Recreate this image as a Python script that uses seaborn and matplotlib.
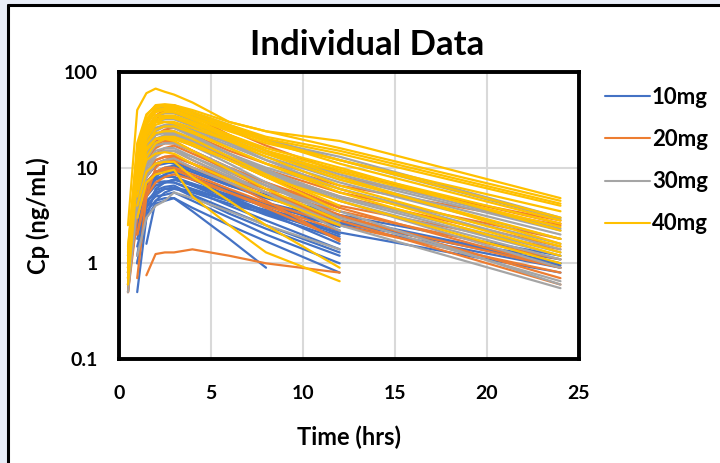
import numpy as np
import pandas as pd
import seaborn as sns
import matplotlib.pyplot as plt
from matplotlib.lines import Line2D
from matplotlib.patches import Rectangle

# sampling times (hrs); None = not sampled / below LOQ
times = [0.5, 1, 1.5, 2, 2.5, 3, 4, 6, 8, 12, 24]

dose_10mg = [
    [0.8, 4.0, 7.0, 9.0, 10.0, 10.5, 9.0, 6.5, 5.0, 3.0, 1.0],
    [None, 1.2, 5.0, 7.5, 8.5, 9.0, 7.5, 5.5, 4.3, 2.8, 0.95],
    [None, 0.5, 3.0, 6.0, 7.0, 7.5, 6.5, 5.0, 4.0, 2.6, 1.1],
    [1.0, 5.0, 8.0, 10.5, 11.0, 11.5, 9.5, 6.8, 5.2, 3.2, 1.2],
    [None, None, 1.6, 4.5, 5.5, 6.0, 5.8, 4.5, 3.6, 2.5, 0.9],
    [0.7, 3.5, 6.0, 7.5, 8.0, 8.0, 6.5, 4.5, 3.2, 1.8, None],
    [None, 2.0, 4.5, 5.5, 6.0, 6.2, 5.0, 3.3, 2.3, 1.2, None],
    [None, 1.5, 3.5, 4.5, 4.8, 4.8, 3.8, 2.5, 1.7, 0.8, None],
    [None, 1.0, 3.0, 4.2, 4.5, 4.8, 3.5, 1.8, 0.9, None, None],
    [0.9, 4.5, 7.0, 8.5, 9.0, 9.0, 7.5, 5.0, 3.5, 1.9, None],
    [None, 2.5, 5.0, 6.5, 7.0, 7.0, 5.8, 4.0, 2.8, 1.4, None],
    [1.2, 5.5, 9.0, 11.0, 11.5, 11.0, 9.0, 6.5, 4.8, 3.0, None],
    [None, 3.0, 6.0, 7.0, 7.2, 7.0, 6.0, 4.5, 3.5, 2.2, None],
    [None, 2.0, 4.0, 5.0, 5.2, 5.5, 4.5, 3.0, 2.0, 1.0, None],
    [0.6, 3.0, 5.5, 6.5, 7.0, 7.5, 6.8, 5.2, 4.0, 2.7, 1.0],
    [None, 2.2, 5.5, 8.0, 9.5, 10.0, 8.0, 5.5, 3.8, 2.0, None],
    [None, 1.8, 4.2, 5.8, 6.3, 6.5, 5.2, 3.6, 2.5, 1.3, None],
    [0.8, 4.0, 6.5, 7.8, 8.2, 8.0, 6.8, 4.8, 3.4, 1.6, None],
    [None, 1.0, 3.8, 5.2, 6.0, 6.0, 5.5, 4.2, 3.3, 2.1, 0.8],
    [None, 3.5, 7.0, 9.0, 9.5, 9.5, 8.0, 5.8, 4.2, 2.4, None],
]

dose_20mg = [
    [None, None, 0.75, 1.25, 1.3, 1.3, 1.4, 1.2, 1.0, 0.8, None],
    [0.5, 6, 15, 22, 25, 26, 22, 15, 11, 6.5, 2.5],
    [1.0, 10, 25, 35, 40, 42, 35, 22, 15, 8, 2.8],
    [None, 0.7, 5, 10, 12, 13, 11, 8, 6, 4, 1.4],
    [0.6, 4, 9, 12, 13, 13, 11, 7.5, 5.5, 3.5, 1.1],
    [None, 3, 8, 11, 12, 12, 10, 7, 5, 3.0, 0.9],
    [0.8, 8, 20, 30, 45, 45, 38, 25, 17, 9, 2.6],
    [None, 2, 6, 9, 10, 10, 8.5, 6, 4.3, 2.5, 0.8],
    [0.5, 5, 12, 16, 18, 18, 15, 10, 7, 3.8, 0.9],
    [None, 4, 10, 14, 16, 17, 14, 9.5, 6.5, 3.2, 0.7],
    [0.7, 6, 13, 17, 18, 18, 15, 10, 7, 3.5, None],
    [None, 3, 7, 9, 9.5, 9.5, 8, 5.5, 3.8, 1.8, None],
    [0.9, 7, 16, 22, 24, 24, 19, 12, 8, 3.8, None],
    [None, 2, 5, 7, 8, 8.5, 7.5, 5.5, 4.0, 2.2, None],
    [0.6, 5, 11, 14, 15, 15, 12, 8, 5.5, 2.8, None],
    [None, 4, 9, 12, 13, 13.5, 11, 7, 4.5, 1.7, None],
    [0.8, 7, 14, 19, 21, 22, 19, 13, 9.5, 5.5, 1.8],
    [None, 5, 12, 17, 20, 21, 18, 12.5, 9, 5, 1.5],
    [0.5, 3, 8, 11, 12, 12, 10, 7, 5, 2.8, 0.6],
    [None, 6, 14, 18, 19, 19, 15, 9, 6, 2.5, None],
]

dose_30mg = [
    [None, 1.2, 3, 4, 4.5, 5.5, 4.8, 3.5, 2.5, 1.4, None],
    [0.8, 10, 28, 40, 45, 44, 38, 28, 20, 12, 2.9],
    [1.0, 8, 20, 30, 33, 33, 28, 20, 14, 8, 2.2],
    [None, 5, 14, 20, 22, 22, 19, 13, 9, 5, 1.3],
    [0.7, 6, 16, 24, 27, 28, 24, 17, 12, 7, 1.8],
    [None, 4, 12, 18, 20, 20, 17, 12, 8.5, 4.5, 0.9],
    [1.2, 12, 30, 42, 44, 42, 35, 26, 19, 13, 3.0],
    [None, 3, 9, 13, 15, 15, 13, 9, 6.5, 3.5, 0.6],
    [0.6, 7, 18, 25, 27, 27, 22, 14, 9.5, 4.5, None],
    [None, 6, 15, 20, 21, 21, 17, 11, 7, 3.0, None],
    [0.9, 9, 22, 30, 32, 32, 27, 18, 12, 6, 1.4],
    [None, 4, 11, 15, 16, 16, 13, 8.5, 5.5, 2.2, None],
    [0.7, 8, 19, 26, 28, 29, 25, 18, 13, 7.5, 2.0],
    [None, 5, 13, 17, 18, 18, 15, 10, 6.5, 3.0, 0.65],
    [1.0, 10, 24, 34, 37, 37, 31, 21, 15, 8.5, 2.3],
    [None, 3, 8, 11, 12, 12.5, 10, 7, 5, 2.6, None],
    [0.8, 7, 17, 22, 23, 23, 19, 13, 9, 4.5, 1.1],
    [None, 6, 16, 22, 24, 24, 20, 14, 10, 6, 1.6],
    [0.5, 4, 10, 14, 15, 15, 12, 8, 5.5, 2.5, 0.55],
    [None, 9, 20, 26, 27, 26, 21, 14, 9.5, 4.8, 1.2],
]

dose_40mg = [
    [2.5, 40, 60, 67, 62, 58, 48, 30, 24, 19, 4.8],
    [1.5, 15, 35, 45, 46, 45, 40, 30, 24, 16, 4.5],
    [0.8, 10, 25, 35, 38, 38, 33, 24, 18, 12, 3.5],
    [None, 6, 12, 14, 14.5, 14, 11, 7.5, 5, 2.5, None],
    [1.2, 12, 28, 38, 40, 40, 34, 25, 19, 12, 3.0],
    [None, 4, 9, 11, 11.5, 11.5, 8, 4.5, 2.5, 0.9, None],
    [None, 3, 7, 8.5, 9, 9.5, 5, 2.5, 1.3, 0.65, None],
    [1.0, 14, 30, 40, 42, 42, 36, 27, 20, 14, 4.0],
    [0.6, 8, 20, 28, 30, 30, 26, 19, 14, 9, 2.4],
    [None, 10, 22, 30, 33, 34, 30, 22, 16, 10, 2.2],
    [1.4, 16, 32, 40, 40, 38, 32, 22, 15, 8, 1.6],
    [None, 7, 18, 25, 27, 27, 23, 16, 11, 6, 1.3],
    [0.9, 12, 26, 34, 35, 35, 30, 20, 14, 7.5, 1.8],
    [None, 8, 18, 23, 24, 24, 20, 13, 8.5, 4, None],
    [1.1, 15, 32, 42, 45, 44, 38, 28, 21, 15, 4.2],
    [None, 5, 13, 18, 20, 20, 17, 12, 8, 4.5, 1.0],
    [0.7, 9, 22, 30, 33, 33, 28, 19, 13, 6.5, 1.5],
    [None, 6, 15, 20, 21, 21, 18, 12, 8, 3.5, None],
    [1.3, 18, 36, 44, 44, 42, 36, 26, 19, 11, 2.8],
    [None, 10, 24, 32, 34, 34, 29, 21, 15, 9.5, 2.6],
    [0.9, 8, 16, 20, 20, 19, 15, 9.5, 6, 2.8, None],
    [None, 12, 25, 30, 30, 29, 24, 16, 11, 5.5, 1.2],
]

doses = ['10mg', '20mg', '30mg', '40mg']
colors = ['#4472C4', '#ED7D31', '#A5A5A5', '#FFC000']

# long format table
rows = []
subj = 0
for dose, group in zip(doses, [dose_10mg, dose_20mg, dose_30mg, dose_40mg]):
    for profile in group:
        subj += 1
        for t, c in zip(times, profile):
            if c is not None:
                rows.append((dose, subj, t, c))
df = pd.DataFrame(rows, columns=['dose', 'subject', 'time', 'cp'])

sns.set_theme(style='white')
plt.rcParams['font.family'] = ['Lato', 'DejaVu Sans']
plt.rcParams['font.weight'] = 'bold'
plt.rcParams['text.color'] = 'black'
plt.rcParams['xtick.color'] = 'black'
plt.rcParams['ytick.color'] = 'black'
plt.rcParams['axes.labelcolor'] = 'black'

fig = plt.figure(figsize=(7.2, 4.63), dpi=100, facecolor='#e9eef8')
# white chart card with black edges (left / top)
fig.patches.append(Rectangle((8 / 720, 0), 1, 1 - 5 / 463, transform=fig.transFigure,
                             facecolor='white', edgecolor='none', zorder=-5))
fig.add_artist(Line2D([8 / 720, 8 / 720], [0, 1 - 5 / 463], color='black', lw=2.2,
                      transform=fig.transFigure))
fig.add_artist(Line2D([8 / 720, 1], [1 - 5 / 463, 1 - 5 / 463], color='black', lw=2.2,
                      transform=fig.transFigure))

ax = fig.add_axes([0.165, 0.2246, 0.639, 0.620])
sns.lineplot(data=df, x='time', y='cp', hue='dose', units='subject', estimator=None,
             palette=dict(zip(doses, colors)), hue_order=doses, lw=1.6, sort=False,
             ax=ax, legend=False)

ax.set_yscale('log')
ax.set_ylim(0.1, 100)
ax.set_xlim(0, 25)
ax.set_xticks([0, 5, 10, 15, 20, 25])
ax.set_yticks([0.1, 1, 10, 100])
ax.set_yticklabels(['0.1', '1', '10', '100'])
ax.minorticks_off()
ax.grid(True, color='#d9d9d9', lw=1.5)
ax.set_axisbelow(True)
for s in ax.spines.values():
    s.set_color('black')
    s.set_linewidth(2.8)
ax.tick_params(axis='both', direction='out', length=5, width=2.5, color='black',
               labelsize=14)
ax.tick_params(axis='x', pad=14)
ax.tick_params(axis='y', pad=10)
for lab in ax.get_xticklabels() + ax.get_yticklabels():
    lab.set_fontweight('bold')

ax.set_xlabel('Time (hrs)', fontsize=17, fontweight='bold', labelpad=17)
ax.set_ylabel('Cp (ng/mL)', fontsize=17, fontweight='bold', labelpad=10)
fig.text(0.51, 0.903, 'Individual Data', ha='center', va='center', fontsize=25,
         fontweight='bold')

handles = [Line2D([], [], color=c, lw=1.5) for c in colors]
leg = fig.legend(handles, doses, loc='upper left', bbox_to_anchor=(0.813, 0.855),
                 frameon=False, handlelength=2.0, handletextpad=0.1,
                 labelspacing=0.95, prop={'size': 16, 'weight': 'bold'})

fig.savefig('out.png', dpi=100, facecolor=fig.get_facecolor())
